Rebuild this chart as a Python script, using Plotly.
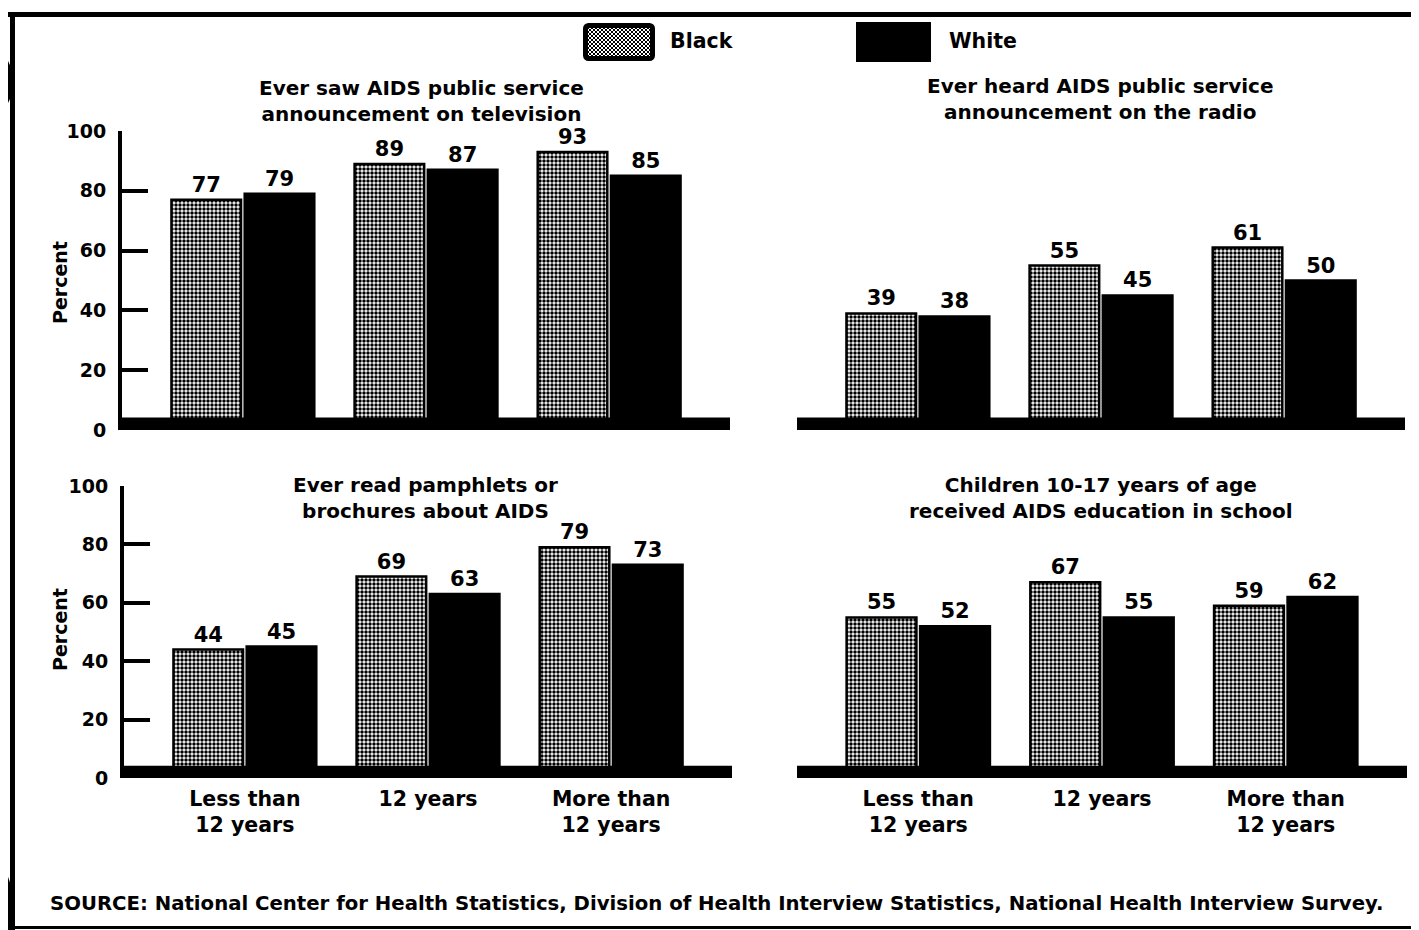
import base64
import plotly.graph_objects as go

# ---------------- data ----------------
categories = ["Less than<br>12 years", "12 years", "More than<br>12 years"]
groups = ["Black", "White"]

tv_black = [77, 89, 93]
tv_white = [79, 87, 85]
radio_black = [39, 55, 61]
radio_white = [38, 45, 50]
pamph_black = [44, 69, 79]
pamph_white = [45, 63, 73]
school_black = [55, 67, 59]
school_white = [52, 55, 62]

panel_titles = [
    "Ever saw AIDS public service<br>announcement on television",
    "Ever heard AIDS public service<br>announcement on the radio",
    "Ever read pamphlets or<br>brochures about AIDS",
    "Children 10-17 years of age<br>received AIDS education in school",
]
y_ticks = [0, 20, 40, 60, 80, 100]
y_title = "Percent"
source_text = ("SOURCE: National Center for Health Statistics, Division of Health "
               "Interview Statistics, National Health Interview Survey.")

# ---------------- styling helpers ----------------
W, H = 1419, 930
OFF = 8  # page body margin in the browser
FONT = "'DejaVu Sans', 'Liberation Sans', Arial, sans-serif"


def px(x):
    return (x - OFF) / W


def py(y):
    return 1 - (y - OFF) / H


def txt(size):
    return dict(family=FONT, size=size, color="black", weight="bold")


fig = go.Figure()

panels = [
    (tv_black, tv_white, "x", "y"),
    (radio_black, radio_white, "x2", "y2"),
    (pamph_black, pamph_white, "x3", "y3"),
    (school_black, school_white, "x4", "y4"),
]

for b_vals, w_vals, xa, ya in panels:
    fig.add_trace(go.Bar(
        x=categories, y=b_vals, name=groups[0], xaxis=xa, yaxis=ya,
        marker=dict(color="white", line=dict(color="black", width=2.5),
                    pattern=dict(shape=".", size=4, solidity=0.6,
                                 fgcolor="black", bgcolor="white", fillmode="replace")),
        text=b_vals, textposition="outside", textfont=txt(21), cliponaxis=False,
        showlegend=False,
    ))
    fig.add_trace(go.Bar(
        x=categories, y=w_vals, name=groups[1], xaxis=xa, yaxis=ya,
        marker=dict(color="black", line=dict(color="black", width=2.5)),
        text=w_vals, textposition="outside", textfont=txt(21), cliponaxis=False,
        showlegend=False,
    ))

xdomains = [(122, 730), (797, 1405), (124, 732), (797, 1407)]
ydomains = [(430, 131), (430, 131), (778, 486), (778, 486)]

layout = dict(
    width=W, height=H,
    margin=dict(l=0, r=0, t=0, b=0, pad=0, autoexpand=False),
    paper_bgcolor="white", plot_bgcolor="white",
    barmode="group", bargap=0.2, bargroupgap=0.05,
    showlegend=False,
    font=txt(18),
)

for i in range(4):
    sx = "" if i == 0 else str(i + 1)
    x0, x1 = xdomains[i]
    yb, yt = ydomains[i]
    layout["xaxis" + sx] = dict(
        domain=[px(x0), px(x1)], range=[-0.66, 2.66], anchor="y" + sx,
        showline=False, showgrid=False, zeroline=False, ticks="",
        showticklabels=(i >= 2), tickfont=txt(20.5), ticklabelstandoff=6,
        fixedrange=True, automargin=False,
    )
    left = i in (0, 2)
    layout["yaxis" + sx] = dict(
        domain=[py(yb), py(yt)], range=[0, 100], anchor="x" + sx,
        showgrid=False, zeroline=False,
        showline=left, linecolor="black", linewidth=4,
        ticks="inside" if left else "", ticklen=26, tickwidth=4, tickcolor="black",
        tickvals=y_ticks if left else [], showticklabels=left,
        tickfont=txt(19), ticklabelstandoff=8, fixedrange=True,
        automargin=False,
    )

fig.update_layout(**layout)

shapes = []
# thick baselines
for i in range(4):
    sx = "" if i == 0 else str(i + 1)
    shapes.append(dict(type="rect", xref=f"x{sx} domain", yref=f"y{sx}",
                       x0=0, x1=1, y0=0, y1=4.2, fillcolor="black",
                       line=dict(width=0), layer="above"))
# page border
shapes.append(dict(type="line", xref="paper", yref="paper",
                   x0=px(8), x1=1, y0=py(14.5), y1=py(14.5),
                   line=dict(color="black", width=5)))
shapes.append(dict(type="line", xref="paper", yref="paper",
                   x0=px(12.5), x1=px(12.5), y0=py(12), y1=0,
                   line=dict(color="black", width=5)))
shapes.append(dict(type="line", xref="paper", yref="paper",
                   x0=px(10), x1=1, y0=py(927.5), y1=py(927.5),
                   line=dict(color="black", width=3)))
# binder-hole shadows on the left edge
shapes.append(dict(type="circle", xref="paper", yref="paper",
                   x0=px(-22), x1=px(13), y0=py(112), y1=py(52),
                   fillcolor="black", line=dict(width=0)))
shapes.append(dict(type="circle", xref="paper", yref="paper",
                   x0=px(-28), x1=px(14), y0=py(960), y1=py(862),
                   fillcolor="black", line=dict(width=0)))
# legend swatch for "White"
shapes.append(dict(type="rect", xref="paper", yref="paper",
                   x0=px(857), x1=px(930), y0=py(61), y1=py(23),
                   fillcolor="black", line=dict(color="black", width=2)))
fig.update_layout(shapes=shapes)

# patterned legend swatch for "Black"
svg = ('<svg xmlns="http://www.w3.org/2000/svg" width="72" height="38">'
       '<defs><pattern id="p" width="4" height="4" patternUnits="userSpaceOnUse">'
       '<rect width="4" height="4" fill="white"/>'
       '<rect width="2" height="2" fill="black"/>'
       '<rect x="2" y="2" width="2" height="2" fill="black"/></pattern></defs>'
       '<rect x="2.5" y="2.5" width="67" height="33" rx="3" fill="url(#p)" '
       'stroke="black" stroke-width="5"/></svg>')
src = "data:image/svg+xml;base64," + base64.b64encode(svg.encode()).decode()
fig.add_layout_image(dict(source=src, xref="paper", yref="paper",
                          x=px(583), y=py(23), sizex=72 / W, sizey=38 / H,
                          xanchor="left", yanchor="top", sizing="stretch",
                          layer="above"))

annotations = []
annotations.append(dict(text=groups[0], x=px(668), y=py(41), xref="paper", yref="paper",
                        xanchor="left", yanchor="middle", showarrow=False, font=txt(20.5)))
annotations.append(dict(text=groups[1], x=px(947), y=py(41), xref="paper", yref="paper",
                        xanchor="left", yanchor="middle", showarrow=False, font=txt(20.5)))
title_pos = [(422, 101), (1100, 99), (425, 498), (1101, 498)]
for t, (tx, ty) in zip(panel_titles, title_pos):
    annotations.append(dict(text=t, x=px(tx), y=py(ty), xref="paper", yref="paper",
                            xanchor="center", yanchor="middle", showarrow=False,
                            font=txt(20), align="center"))
for ty in (283, 630):
    annotations.append(dict(text=y_title, x=px(60), y=py(ty), xref="paper", yref="paper",
                            xanchor="center", yanchor="middle", showarrow=False,
                            textangle=-90, font=txt(19)))
annotations.append(dict(text=source_text, x=px(48), y=py(903), xref="paper", yref="paper",
                        xanchor="left", yanchor="middle", showarrow=False, font=txt(19.7)))
fig.update_layout(annotations=annotations)

fig.write_html("out.html")
